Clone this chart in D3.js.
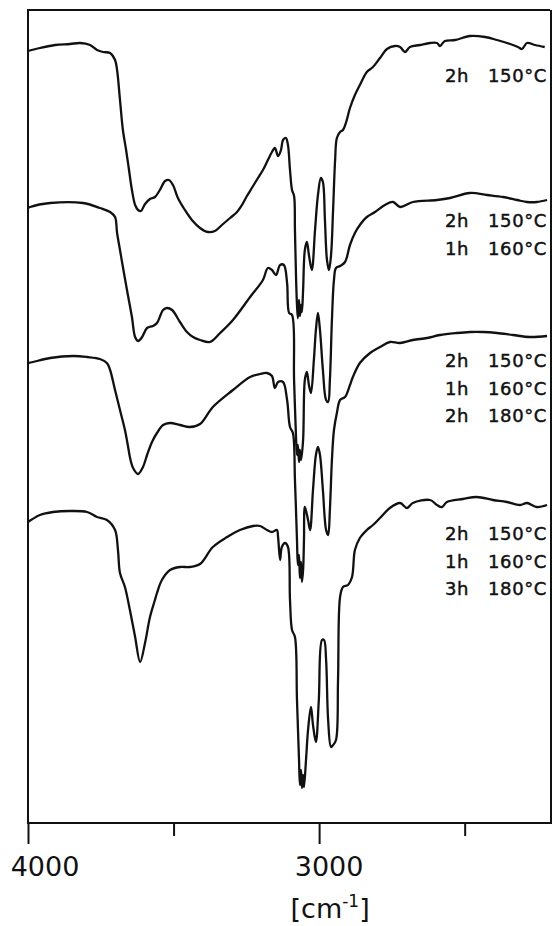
<!DOCTYPE html>
<html>
<head>
<meta charset="utf-8">
<script src="https://cdn.jsdelivr.net/npm/d3@7"></script>
<style>
  html, body { margin: 0; padding: 0; background: #fff; }
  svg { display: block; }
  text { font-family: "DejaVu Sans", sans-serif; fill: #111; }
</style>
</head>
<body>
<svg id="chart"></svg>
<script>
// IR spectra, wavenumber [cm-1] vs. stacked transmission (arbitrary units)
const spec1 = [[4000,77.2],[3959,77.5],[3907,77.8],[3856,77.9],[3821,78.0],[3787,77.8],[3763,77.3],[3742,77.1],[3718,77.0],[3701,76.3],[3694,75.3],[3684,72.3],[3674,69.3],[3663,67.3],[3653,65.3],[3643,63.3],[3632,61.8],[3622,61.3],[3612,61.2],[3598,61.9],[3581,62.4],[3564,62.6],[3547,63.3],[3529,64.2],[3516,64.3],[3502,63.8],[3485,62.5],[3461,61.3],[3437,60.3],[3409,59.5],[3382,59.1],[3358,59.2],[3334,59.8],[3306,60.5],[3282,61.1],[3265,61.8],[3248,62.7],[3231,63.5],[3210,64.5],[3193,65.3],[3176,66.3],[3162,67.1],[3152,67.5],[3141,66.7],[3131,67.3],[3124,68.3],[3114,68.5],[3107,67.8],[3100,65.3],[3093,63.3],[3086,62.7],[3083,59.3],[3079,54.3],[3076,51.8],[3073,50.5],[3069,52.3],[3066,50.7],[3062,51.8],[3059,51.1],[3055,53.3],[3049,57.3],[3042,58.1],[3035,56.8],[3025,55.3],[3014,59.3],[3004,62.8],[2994,64.5],[2987,64.1],[2980,60.3],[2973,56.3],[2966,55.3],[2959,56.8],[2952,61.3],[2945,66.3],[2939,68.5],[2928,69.1],[2918,69.3],[2907,70.1],[2894,71.5],[2877,72.8],[2860,73.8],[2836,75.1],[2815,75.6],[2791,76.5],[2767,77.4],[2739,77.7],[2722,77.6],[2705,77.1],[2688,77.6],[2654,77.8],[2619,78.0],[2595,78.0],[2585,77.7],[2568,78.2],[2533,78.3],[2482,78.7],[2430,78.6],[2389,78.3],[2344,77.9],[2317,77.6],[2303,77.4],[2286,78.0],[2258,77.8],[2225,77.6]];

const spec2 = [[4000,61.5],[3993,61.6],[3924,62.0],[3811,62.0],[3753,61.5],[3718,61.1],[3701,60.6],[3694,59.0],[3684,57.3],[3674,55.6],[3660,53.3],[3643,50.6],[3632,48.6],[3622,48.2],[3608,48.6],[3591,49.5],[3571,49.7],[3557,50.0],[3536,51.3],[3523,51.5],[3505,51.3],[3478,50.1],[3454,49.1],[3433,48.6],[3409,48.3],[3375,48.1],[3340,49.0],[3296,50.3],[3237,52.6],[3193,54.3],[3176,55.5],[3162,55.3],[3148,54.8],[3134,55.8],[3121,55.8],[3110,54.0],[3103,51.0],[3093,50.8],[3086,44.3],[3079,38.3],[3076,36.8],[3073,37.8],[3069,36.1],[3066,37.3],[3062,36.3],[3055,38.3],[3049,44.3],[3042,45.1],[3035,43.8],[3028,43.0],[3018,46.3],[3011,49.3],[3004,51.0],[2997,49.3],[2987,45.3],[2976,42.3],[2969,42.1],[2963,44.3],[2956,50.3],[2949,54.3],[2942,55.5],[2928,55.7],[2911,56.1],[2894,57.8],[2877,59.0],[2860,59.8],[2836,60.6],[2808,61.1],[2774,61.8],[2746,62.1],[2722,61.6],[2678,62.1],[2595,62.3],[2550,62.5],[2482,63.0],[2423,62.8],[2368,62.6],[2320,62.3],[2286,62.1],[2252,62.1],[2217,62.3]];

const spec3 = [[4000,46.0],[3983,46.1],[3924,46.5],[3845,46.7],[3797,46.6],[3753,46.4],[3729,46.0],[3718,45.3],[3701,43.3],[3684,41.3],[3667,39.3],[3656,37.6],[3650,36.6],[3639,35.5],[3622,34.9],[3605,35.6],[3591,36.8],[3574,38.1],[3557,39.0],[3536,39.8],[3512,40.0],[3478,39.8],[3444,39.6],[3409,39.9],[3365,41.6],[3296,43.3],[3237,44.6],[3203,44.9],[3179,45.0],[3162,44.7],[3152,43.5],[3141,44.1],[3124,44.1],[3110,42.3],[3100,39.6],[3090,39.0],[3083,34.3],[3076,28.3],[3073,25.8],[3069,26.8],[3066,24.5],[3062,26.1],[3059,24.1],[3055,25.3],[3052,28.3],[3049,31.6],[3038,30.3],[3031,29.3],[3021,33.3],[3011,36.8],[3004,37.6],[2997,36.8],[2987,33.3],[2976,29.3],[2969,28.8],[2963,31.3],[2956,36.3],[2949,39.3],[2939,41.0],[2928,42.3],[2911,42.6],[2894,43.8],[2884,44.6],[2860,46.0],[2825,47.0],[2791,47.6],[2757,48.1],[2722,48.0],[2678,48.3],[2629,48.5],[2585,48.8],[2527,49.0],[2482,49.1],[2437,49.1],[2389,49.0],[2334,48.8],[2276,48.6],[2217,48.7]];

const spec4 = [[4000,30.1],[3959,30.8],[3914,31.1],[3856,31.2],[3797,31.1],[3763,30.6],[3729,30.3],[3701,29.3],[3691,27.3],[3684,25.0],[3667,23.6],[3650,21.3],[3632,18.6],[3615,16.1],[3598,18.0],[3581,20.6],[3564,22.3],[3557,23.0],[3540,24.3],[3512,25.3],[3478,25.6],[3444,25.6],[3409,25.9],[3365,27.6],[3316,28.6],[3272,29.3],[3227,29.7],[3203,29.7],[3179,29.3],[3162,29.1],[3145,29.3],[3141,28.6],[3134,26.3],[3128,27.6],[3117,28.0],[3107,27.6],[3100,22.3],[3093,19.3],[3083,18.6],[3076,12.3],[3069,6.3],[3066,3.8],[3062,5.3],[3059,3.5],[3055,4.8],[3052,3.6],[3045,6.3],[3038,9.3],[3028,11.6],[3021,9.8],[3011,8.1],[3001,12.3],[2990,18.3],[2983,18.3],[2976,16.3],[2969,10.3],[2959,7.6],[2952,7.8],[2942,8.3],[2935,14.3],[2928,22.6],[2918,23.6],[2901,23.8],[2887,24.6],[2877,27.3],[2860,28.5],[2836,29.3],[2815,29.8],[2791,30.5],[2757,31.5],[2722,32.0],[2698,31.5],[2678,32.0],[2619,32.3],[2595,31.8],[2578,31.6],[2561,32.1],[2506,32.4],[2458,32.6],[2403,32.3],[2355,32.1],[2310,31.8],[2286,32.0],[2252,31.6],[2217,31.8]];

const spectra = [spec1, spec2, spec3, spec4];

// heat treatment of each sample: [duration, temperature]
const treatments = [
  [["2h", "150°C"]],
  [["2h", "150°C"], ["1h", "160°C"]],
  [["2h", "150°C"], ["1h", "160°C"], ["2h", "180°C"]],
  [["2h", "150°C"], ["1h", "160°C"], ["3h", "180°C"]]
];

const majorTicks = [4000, 3000];
const minorTicks = [3500, 2500];
const xLabel = "[cm";

const W = 552, H = 926;
const mLeft = 28, mRight = 552, mTop = 10, mBottom = 823;

const svg = d3.select("#chart").attr("width", W).attr("height", H);
svg.append("rect").attr("width", W).attr("height", H).attr("fill", "#fff");

const x = d3.scaleLinear().domain([4000, 2200]).range([mLeft, mRight]);
const y = d3.scaleLinear().domain([0, 81.3]).range([mBottom, mTop]);

// frame
const frame = svg.append("g").attr("stroke", "#111").attr("stroke-width", 2).attr("fill", "none");
frame.append("line").attr("x1", mLeft).attr("x2", mLeft).attr("y1", mTop).attr("y2", mBottom);
frame.append("line").attr("x1", mLeft - 1).attr("x2", W - 2).attr("y1", mTop).attr("y2", mTop);
frame.append("line").attr("x1", W - 1).attr("x2", W - 1).attr("y1", mTop).attr("y2", mBottom);

// x axis
const axisMajor = svg.append("g").attr("transform", `translate(0,${mBottom})`)
  .call(d3.axisBottom(x).tickValues(majorTicks).tickSize(21).tickSizeOuter(0).tickFormat(""));
const axisMinor = svg.append("g").attr("transform", `translate(0,${mBottom})`)
  .call(d3.axisBottom(x).tickValues(minorTicks).tickSize(13).tickSizeOuter(0).tickFormat(""));
[axisMajor, axisMinor].forEach(a => {
  a.select(".domain").remove();
  a.selectAll("line").attr("stroke", "#111").attr("stroke-width", 2);
});
svg.append("line").attr("x1", mLeft - 1).attr("x2", W).attr("y1", mBottom).attr("y2", mBottom)
  .attr("stroke", "#111").attr("stroke-width", 2);

svg.append("g").selectAll("text").data(majorTicks).join("text")
  .attr("x", d => x(d) + (d === 4000 ? 17 : 10))
  .attr("y", mBottom + 53)
  .attr("text-anchor", "middle")
  .attr("font-size", 27)
  .text(d => d);

const unit = svg.append("text").attr("x", x(3000) + 11).attr("y", mBottom + 95)
  .attr("text-anchor", "middle").attr("font-size", 27);
unit.append("tspan").text(xLabel);
unit.append("tspan").attr("font-size", 17).attr("dy", -11).text("-1");
unit.append("tspan").attr("dy", 11).text("]");

// spectra
const line = d3.line().x(d => x(d[0])).y(d => y(d[1])).curve(d3.curveCatmullRom.alpha(0.5));
svg.append("g").selectAll("path").data(spectra).join("path")
  .attr("d", line)
  .attr("fill", "none")
  .attr("stroke", "#111")
  .attr("stroke-width", 2.3)
  .attr("stroke-linejoin", "round");

// treatment labels (slightly heavier print, like the original)
const labelBase = [82, 227, 367, 540];
const lineGap = 27.5;
treatments.forEach((rows, i) => {
  const g = svg.append("g").attr("font-size", 18).attr("letter-spacing", 0.6)
    .attr("stroke", "#111").attr("stroke-width", 0.45);
  rows.forEach((r, j) => {
    const yy = labelBase[i] + j * lineGap;
    g.append("text").attr("x", 469).attr("y", yy).attr("text-anchor", "end").text(r[0]);
    g.append("text").attr("x", 547).attr("y", yy).attr("text-anchor", "end").text(r[1]);
  });
});
</script>
</body>
</html>
